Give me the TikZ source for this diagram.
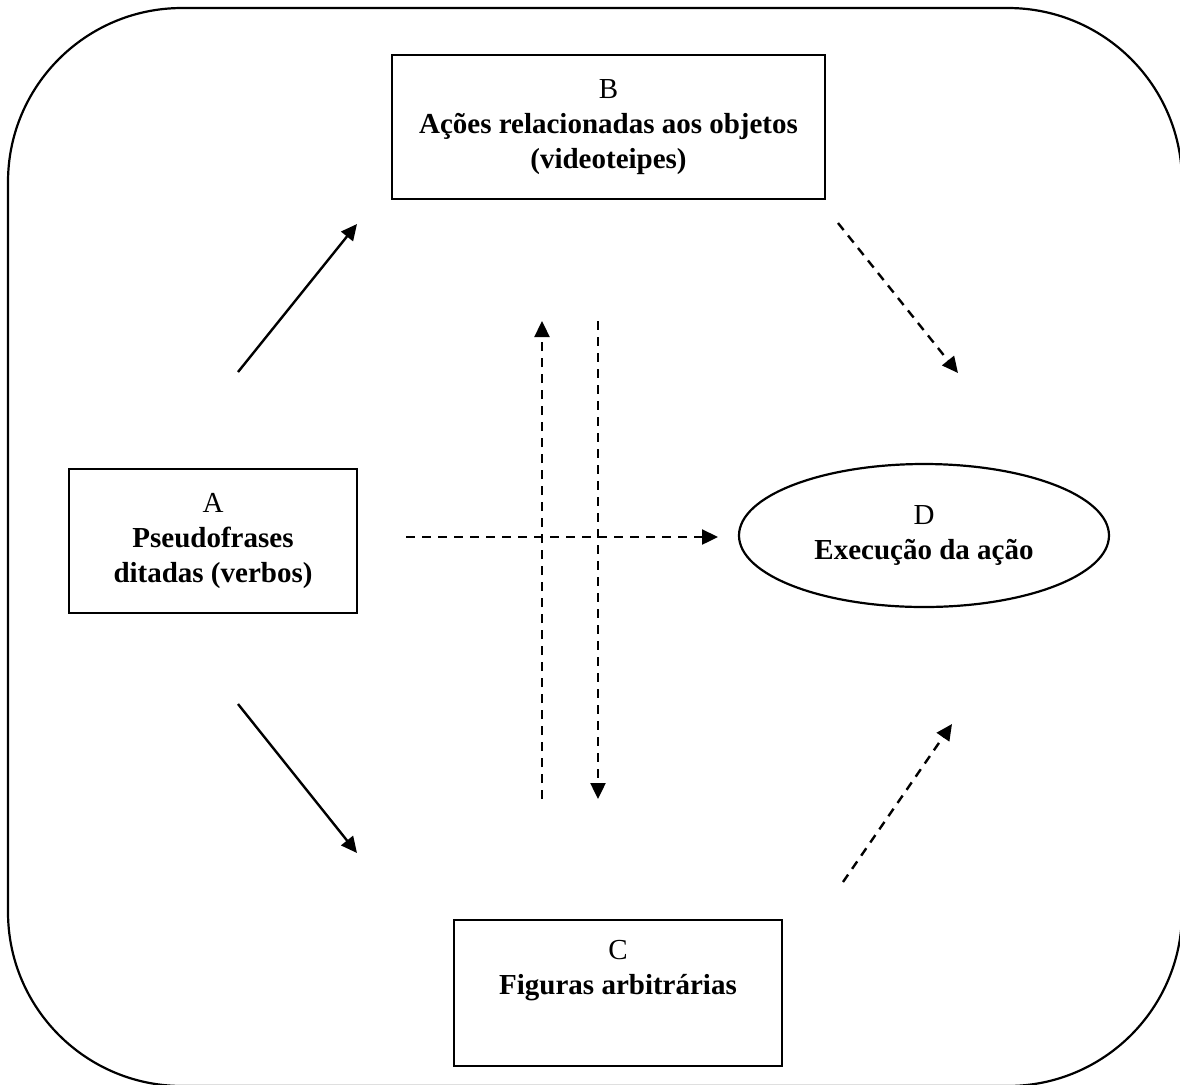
\documentclass[tikz,border=0pt]{standalone}
\usepackage{fontspec}
\setmainfont{Liberation Serif}
\usetikzlibrary{arrows.meta,positioning,shapes.geometric}

\begin{document}
\begin{tikzpicture}[x=0.5pt,y=-0.5pt,
  every node/.style={font=\fontsize{14.5}{17.5}\selectfont},
  box/.style={draw,line width=1.1pt,inner sep=0pt,align=center},
  lbl/.style={inner sep=0pt,align=center},
  solidarr/.style={line width=1.2pt,-{Triangle[length=8pt,width=7.5pt]}},
  dasharr/.style={solidarr,dash pattern=on 4.5pt off 3.5pt}]
  \useasboundingbox (0,0) rectangle (1180,1084);
  \draw[line width=1.1pt,rounded corners=87pt] (8,8) rectangle (1182,1086);
  % the four blocks
  \node[box,minimum width=144pt,minimum height=72pt] (A) at (213,541) {A\\\textbf{Pseudofrases}\\\textbf{ditadas (verbos)}};
  \node[box,minimum width=216.5pt,minimum height=72pt] (B) at (608.5,127) {B\\\textbf{Ações relacionadas aos objetos}\\\textbf{(videoteipes)}};
  \node[box,minimum width=164pt,minimum height=73pt] (C) at (618,993) {};
  \node[lbl] (Clbl) at (618,971) {C\\\textbf{Figuras arbitrárias}};
  \node[box,ellipse,minimum width=185pt,minimum height=71.5pt] (D) at (924,535.5) {D\\\textbf{Execução da ação}};
  % free arrow ends
  \coordinate (ab0) at (238,372); \coordinate (ab1) at (357,224);
  \coordinate (ac0) at (238,704); \coordinate (ac1) at (357,853);
  \coordinate (bd0) at (838,223); \coordinate (bd1) at (958,373);
  \coordinate (cd0) at (843,882); \coordinate (cd1) at (952,724);
  \coordinate (ad0) at (406,537); \coordinate (ad1) at (718,537);
  \coordinate (cb0) at (542,799); \coordinate (cb1) at (542,321);
  \coordinate (bc0) at (598,321); \coordinate (bc1) at (598,799);
  \draw[solidarr] (ab0) -- (ab1);
  \draw[solidarr] (ac0) -- (ac1);
  \foreach \s/\e in {bd0/bd1,cd0/cd1,ad0/ad1,cb0/cb1,bc0/bc1} \draw[dasharr] (\s) -- (\e);
\end{tikzpicture}
\end{document}
